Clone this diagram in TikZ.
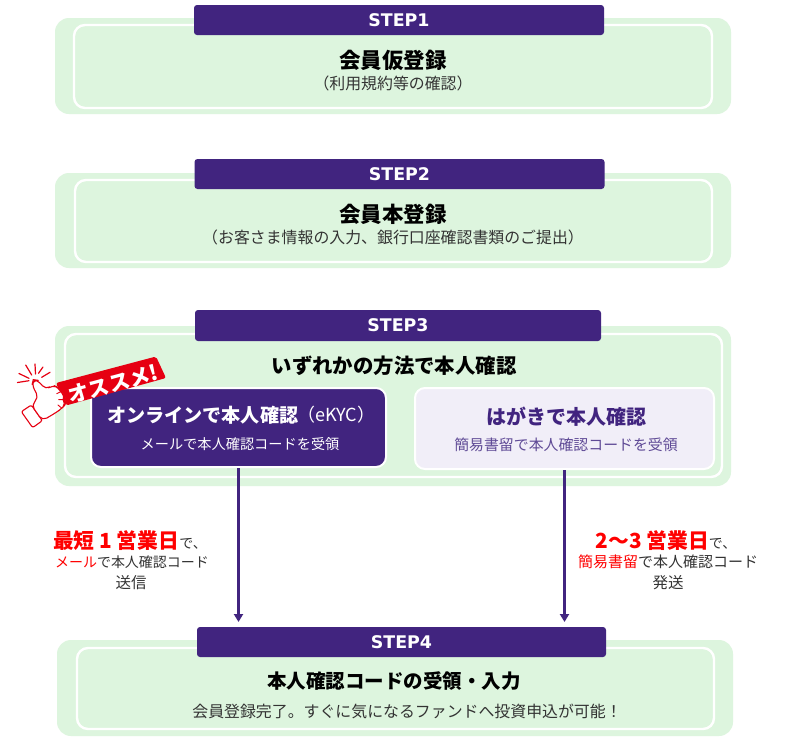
\documentclass[tikz,border=0pt]{standalone}
\usepackage{fontspec}
\setmainfont{Noto Sans CJK JP}
\newfontfamily\latinf{DejaVu Sans}
\usetikzlibrary{arrows.meta}
\definecolor{pur}{HTML}{41247F}
\definecolor{grn}{HTML}{DDF5DE}
\definecolor{lav}{HTML}{F1EEF8}
\definecolor{txt}{HTML}{333333}
\definecolor{subp}{HTML}{5F4A96}
\definecolor{redb}{HTML}{E60012}
\definecolor{redt}{HTML}{FF0000}
\newcommand{\fs}[1]{\fontsize{#1}{#1}\selectfont}
\tikzset{
  x=1pt,y=-1pt,
  outerbox/.style={fill=grn,rounded corners=14pt,minimum width=676pt,inner sep=0pt},
  innerbox/.style={draw=white,line width=2.4pt,rounded corners=11pt,inner sep=0pt},
  stephead/.style={fill=pur,rounded corners=3pt,minimum width=410pt,minimum height=30pt,inner sep=0pt,text=white,font=\latinf\bfseries\fs{17.4}},
  title/.style={inner sep=0pt,text=black,font=\bfseries\fs{21.5}},
  subt/.style={inner sep=0pt,text=txt,font=\fs{15.9}},
  note/.style={inner sep=0pt,text=txt,font=\fs{14}},
  flow/.style={draw=pur,line width=2.1pt,-{Triangle[length=8pt,width=9pt]}},
  ray/.style={draw=redb,line width=1.2pt,line cap=round},
}
\begin{document}
\begin{tikzpicture}
\useasboundingbox (0,0) rectangle (785,745);
\fill[white] (0,0) rectangle (785,745);

% STEP 1
\node[outerbox,minimum height=96pt] (o1) at (393,66) {};
\node[innerbox,minimum width=638pt,minimum height=83pt] (i1) at (393,66.5) {};
\node[stephead] (h1) at (399,20) {STEP1};
\node[title] (t1) at (393,60) {会員仮登録};
\node[subt] (s1) at (393,83) {（利用規約等の確認）};

% STEP 2
\node[outerbox,minimum height=95pt] (o2) at (393,220.5) {};
\node[innerbox,minimum width=637pt,minimum height=82pt] (i2) at (393.5,221) {};
\node[stephead] (h2) at (399.5,174) {STEP2};
\node[title] (t2) at (393,214) {会員本登録};
\node[subt] (s2) at (393,237) {（お客さま情報の入力、銀行口座確認書類のご提出）};

% STEP 3
\node[outerbox,minimum height=160pt] (o3) at (393,406) {};
\node[innerbox,minimum width=657pt,minimum height=143pt] (i3) at (393.5,405.5) {};
\node[stephead,minimum width=406pt,minimum height=31pt] (h3) at (398,325.5) {STEP3};
\node[title,font=\bfseries\fs{20.4}] (t3) at (394,366) {いずれかの方法で本人確認};
\node[draw=white,line width=2pt,fill=pur,rounded corners=10pt,minimum width=295pt,minimum height=79pt,inner sep=0pt] (onl) at (238.5,427.5) {};
\node[draw=white,line width=2pt,fill=lav,rounded corners=10pt,minimum width=299pt,minimum height=81pt,inner sep=0pt] (pos) at (564.5,428.5) {};
\node[inner sep=0pt,text=white,font=\bfseries\fs{19.1},anchor=west] (t3a) at (107,415) {オンラインで本人確認};
\node[inner sep=0pt,text=white,font=\fs{18},anchor=west] (t3b) at (297,415) {（eKYC）};
\node[inner sep=0pt,text=white,font=\fs{14.2}] (s3a) at (240,444) {メールで本人確認コードを受領};
\node[inner sep=0pt,text=pur,font=\bfseries\fs{20}] (t3c) at (566,417) {はがきで本人確認};
\node[inner sep=0pt,text=subp,font=\fs{14.9}] (s3c) at (566,445) {簡易書留で本人確認コードを受領};

% recommendation banner
\fill[redb,rounded corners=2pt] (56,383) -- (156,356.5) -- (166,378) -- (66,405.5) -- cycle;
\node[inner sep=0pt,text=white,font=\bfseries\fs{21},rotate=15] (rec) at (113,384) {オススメ!};
\begin{scope}[shift={(10,355)},scale=1/3]
  \filldraw[draw=redb,fill=white,line width=1.1pt,line join=round,rounded corners=2pt]
    (34,170) -- (64,150) -- (97,197) -- (68,218) -- cycle;
  \filldraw[draw=redb,fill=white,line width=1.1pt,line join=round,rounded corners=5pt]
    (64,150) -- (86,128) -- (66,90) -- (70,74) -- (84,76) -- (107,104) -- (128,90) -- (146,98)
    -- (152,110) -- (166,122) -- (160,134) -- (168,146) -- (156,160) -- (136,174) -- (97,197) -- cycle;
  \draw[draw=redb,line width=0.9pt,line cap=round] (152,110) -- (140,116) (160,134) -- (146,134) (156,160) -- (144,150);
\end{scope}
\draw[ray] (17.5,382.5) -- (29,380.7);
\draw[ray] (19,373.5) -- (29,378.3);
\draw[ray] (25.7,365) -- (31.7,375);
\draw[ray] (35,364) -- (35.5,374);
\draw[ray] (43,367) -- (38.5,373.3);
\draw[ray] (50,372.3) -- (41.7,377.3);

% STEP 4
\node[outerbox,minimum height=96pt] (o4) at (395,688) {};
\node[innerbox,minimum width=637pt,minimum height=81pt] (i4) at (395.5,688.5) {};
\node[stephead,minimum width=409pt] (h4) at (401.5,642) {STEP4};
\node[title,font=\bfseries\fs{19.5}] (t4) at (394,681) {本人確認コードの受領・入力};
\node[subt,font=\fs{15.9}] (s4) at (407,711) {会員登録完了。すぐに気になるファンドへ投資申込が可能！};

% arrows
\coordinate (e1) at (239,622);
\coordinate (e2) at (564.5,622);
\draw[flow] (onl.south) -- (onl.south |- e1);
\draw[flow] (pos.south) -- (pos.south |- e2);

% notes
\node[note] (n1) at (130,541) {{\bfseries\fs{20.8}\textcolor{redt}{最短 1 営業日}}で、};
\node[note] (n2) at (132,562) {\textcolor{redt}{メール}で本人確認コード};
\node[note,font=\fs{15.5}] (n3) at (131,583) {送信};
\node[note] (n4) at (666,541) {{\bfseries\fs{20.8}\textcolor{redt}{2～3 営業日}}で、};
\node[note,font=\fs{15}] (n5) at (668,562) {\textcolor{redt}{簡易書留}で本人確認コード};
\node[note,font=\fs{15.5}] (n6) at (668,583) {発送};
\end{tikzpicture}
\end{document}
